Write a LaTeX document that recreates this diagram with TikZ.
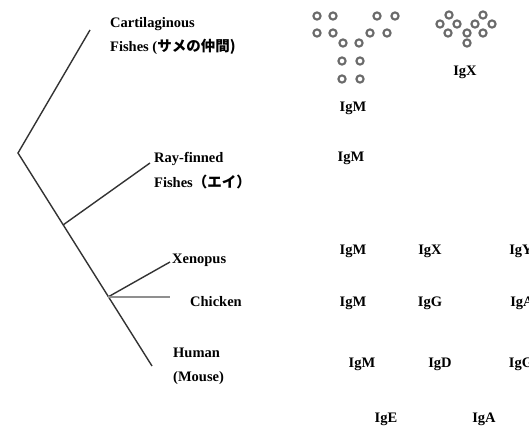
\documentclass[tikz,border=0pt]{standalone}
\usepackage{fontspec}
\setmainfont{Liberation Serif}
\newfontfamily\jpfont{Noto Sans CJK JP}
\usepackage{tikz}
\usetikzlibrary{positioning}
\definecolor{branch}{HTML}{333333}
\definecolor{ring}{HTML}{6A6A6A}

\begin{document}
\begin{tikzpicture}[x=1pt,y=-1pt,
    taxon/.style={anchor=base west,inner sep=0pt,font=\fontsize{14.5}{17}\selectfont\bfseries},
    iglab/.style={anchor=base,inner sep=0pt,font=\fontsize{14.5}{17}\selectfont\bfseries},
    branchline/.style={draw=branch,line width=1.4pt},
    ringc/.style={draw=ring,line width=2.1pt,fill=white}
  ]
    \useasboundingbox (0,0) rectangle (529,425);
    \clip (0,0) rectangle (529,425);
    % tree
    \coordinate (root) at (18,153);
    \coordinate (rayfork) at (63,225);
    \coordinate (tetfork) at (108,297);
    \coordinate (cartend) at (90,30);
    \coordinate (rayend) at (150,163);
    \coordinate (xenend) at (170,262);
    \coordinate (chkend) at (170,297);
    \coordinate (humend) at (152,366);
    \draw[branchline] (cartend) -- (root) -- (humend);
    \draw[branchline] (rayfork) -- (rayend);
    \draw[branchline] (tetfork) -- (xenend);
    \draw[branchline,draw=branch!55] (tetfork) -- (chkend);
    % taxa
    \node[taxon] (cart) at (110,28) {Cartilaginous};
    \node[taxon] (cart2) at (110,52) {Fishes (\jpfont サメの仲間)};
    \node[taxon] (ray) at (154,162) {Ray-finned};
    \node[taxon] (ray2) at (154,187) {Fishes\jpfont （エイ）};
    \node[taxon] (xen) at (172,263) {Xenopus};
    \node[taxon] (chk) at (190,306) {Chicken};
    \node[taxon] (hum) at (173,357) {Human};
    \node[taxon] (hum2) at (173,381) {(Mouse)};
    % IgM pentamer and IgX
    \foreach \cx/\cy in {317/16,333/16,377/16,395/16,317/33,333/33,370/33,387/33,
        343/43,359/43,342/61,360/61,342/79,360/79}
      \draw[ringc] (\cx,\cy) circle[radius=3.6];
    \foreach \cx/\cy in {449/15,483/15,440/24,457/24,475/24,492/24,
        448/33,467/33,483/33,467/43}
      \draw[ringc] (\cx,\cy) circle[radius=3.6];
    % isotypes
    \node[iglab] (shkm) at (353,111) {IgM};
    \node[iglab] (shkx) at (465,76) {IgX};
    \node[iglab] (raym) at (351,161) {IgM};
    \node[iglab] (xenm) at (353,254) {IgM};
    \node[iglab] (xenx) at (430,254) {IgX};
    \node[iglab] (xeny) at (521,254) {IgY};
    \node[iglab] (chkm) at (353,306) {IgM};
    \node[iglab] (chkg) at (430,306) {IgG};
    \node[iglab] (chka) at (522,306) {IgA};
    \node[iglab] (humm) at (362,367) {IgM};
    \node[iglab] (humd) at (440,367) {IgD};
    \node[iglab] (humg) at (521,367) {IgG};
    \node[iglab] (hume) at (386,422) {IgE};
    \node[iglab] (huma) at (484,422) {IgA};
  \end{tikzpicture}
\end{document}
